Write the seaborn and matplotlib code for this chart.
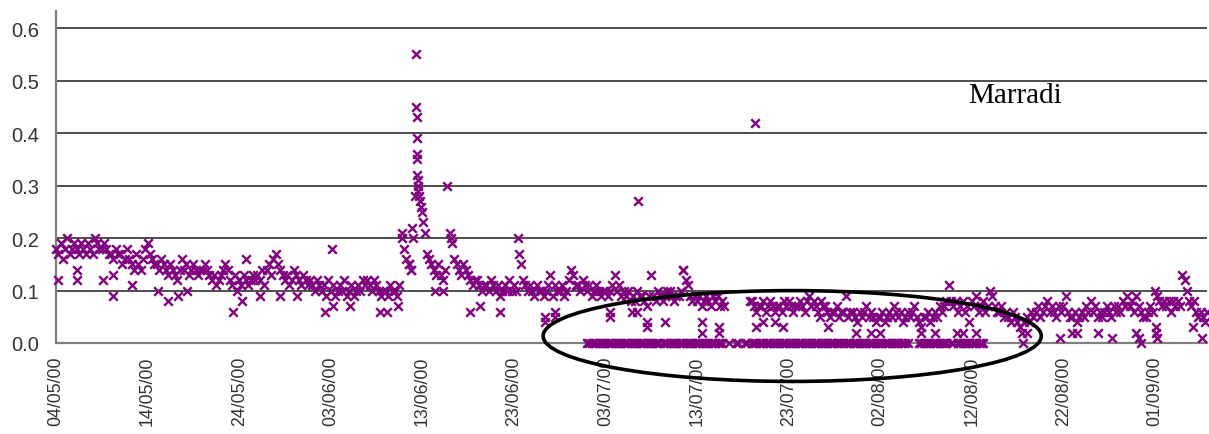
import numpy as np
import pandas as pd
import matplotlib
matplotlib.use("Agg")
import matplotlib.pyplot as plt
import matplotlib.dates as mdates
from matplotlib.patches import Ellipse
from matplotlib.ticker import FormatStrFormatter
import seaborn as sns

# ---- data -------------------------------------------------------------
start_date = "2000-05-04"
readings_per_day = 4  # one reading every 6 hours

# four readings per day, starting 04/05/00 00:00
daily_readings = [
    [0.18, 0.17, 0.19, 0.16], [0.18, 0.20, 0.17, 0.18], [0.19, 0.18, 0.17, 0.19],
    [0.18, 0.17, 0.19, 0.18], [0.17, 0.20, 0.19, 0.18], [0.18, 0.19, 0.18, 0.17],
    [0.17, 0.16, 0.18, 0.17], [0.17, 0.15, 0.16, 0.18], [0.16, 0.15, 0.14, 0.17],
    [0.15, 0.14, 0.16, 0.18], [0.19, 0.17, 0.16, 0.15], [0.15, 0.14, 0.16, 0.15],
    [0.14, 0.13, 0.15, 0.14], [0.13, 0.12, 0.14, 0.16], [0.14, 0.15, 0.13, 0.14],
    [0.15, 0.14, 0.13, 0.14], [0.14, 0.15, 0.14, 0.13], [0.12, 0.13, 0.11, 0.12],
    [0.13, 0.14, 0.15, 0.14], [0.12, 0.11, 0.13, 0.10], [0.12, 0.11, 0.13, 0.12],
    [0.11, 0.12, 0.13, 0.12], [0.13, 0.12, 0.14, 0.11], [0.14, 0.15, 0.13, 0.16],
    [0.17, 0.15, 0.14, 0.13], [0.12, 0.13, 0.11, 0.12], [0.14, 0.13, 0.12, 0.11],
    [0.13, 0.12, 0.11, 0.12], [0.11, 0.10, 0.12, 0.11], [0.10, 0.11, 0.09, 0.12],
    [0.10, 0.11, 0.09, 0.10], [0.11, 0.10, 0.12, 0.09], [0.10, 0.11, 0.09, 0.10],
    [0.11, 0.10, 0.12, 0.11], [0.12, 0.11, 0.10, 0.12], [0.11, 0.10, 0.09, 0.10],
    [0.10, 0.09, 0.11, 0.10], [0.10, 0.09, 0.11, 0.20], [0.18, 0.16, 0.15, 0.14],
    [0.20, 0.28, 0.29, 0.27], [0.25, 0.21, 0.17, 0.16], [0.15, 0.14, 0.13, 0.15],
    [0.13, 0.12, 0.14, 0.30], [0.21, 0.19, 0.16, 0.15], [0.14, 0.13, 0.15, 0.14],
    [0.13, 0.12, 0.11, 0.12], [0.12, 0.11, 0.10, 0.11], [0.11, 0.10, 0.12, 0.11],
    [0.10, 0.11, 0.09, 0.10], [0.11, 0.10, 0.12, 0.10], [0.11, 0.10, 0.20, 0.15],
    [0.12, 0.11, 0.10, 0.11], [0.10, 0.09, 0.11, 0.10], [0.10, 0.09, 0.10, 0.11],
    [0.13, 0.09, 0.11, 0.10], [0.10, 0.11, 0.09, 0.10], [0.12, 0.14, 0.13, 0.11],
    [0.11, 0.10, 0.12, 0.11], [0.10, 0.11, 0.09, 0.10], [0.11, 0.10, 0.09, 0.10],
    [0.10, 0.09, 0.10, 0.11], [0.13, 0.10, 0.11, 0.09], [0.10, 0.09, 0.10, 0.08],
    [0.09, 0.08, 0.10, 0.09], [0.09, 0.08, 0.07, 0.09], [0.13, 0.09, 0.08, 0.10],
    [0.09, 0.08, 0.09, 0.10], [0.10, 0.09, 0.08, 0.09], [0.09, 0.10, 0.14, 0.12],
    [0.11, 0.09, 0.08, 0.09], [0.08, 0.09, 0.07, 0.08], [0.09, 0.08, 0.07, 0.09],
    [0.08, 0.09, 0.07, 0.08], [0.07, None, None, None], [None, None, None, None],
    [None, None, None, 0.08], [0.08, 0.07, 0.06, 0.07], [0.07, 0.08, 0.06, 0.07],
    [0.08, 0.07, 0.06, 0.07], [0.07, 0.06, 0.08, 0.07], [0.08, 0.07, 0.06, 0.07],
    [0.07, 0.08, 0.07, 0.06], [0.08, 0.09, 0.07, 0.08], [0.07, 0.06, 0.08, 0.07],
    [0.07, 0.06, 0.05, 0.06], [0.06, 0.07, 0.05, 0.06], [0.06, 0.09, 0.05, 0.06],
    [0.06, 0.05, 0.04, 0.06], [0.05, 0.06, 0.07, 0.05], [0.06, 0.05, 0.04, 0.05],
    [0.05, 0.06, 0.04, 0.05], [0.06, 0.05, 0.07, 0.06], [0.05, 0.06, 0.04, 0.05],
    [0.06, 0.05, 0.06, 0.07], [0.05, 0.04, 0.03, 0.05], [0.05, 0.06, 0.04, 0.05],
    [0.06, 0.05, 0.07, 0.06], [0.07, 0.08, 0.11, 0.08], [0.07, 0.08, 0.06, 0.07],
    [0.08, 0.06, 0.07, 0.04], [0.08, 0.07, 0.09, 0.06], [0.07, 0.08, 0.06, 0.07],
    [0.10, 0.09, 0.07, 0.06], [0.06, 0.07, 0.05, 0.06], [0.05, 0.04, 0.06, 0.05],
    [0.04, 0.03, 0.02, 0.04], [0.05, 0.04, 0.06, 0.05], [0.06, 0.07, 0.05, 0.06],
    [0.07, 0.08, 0.06, 0.07], [0.06, 0.05, 0.07, 0.06], [0.07, 0.09, 0.06, 0.05],
    [0.05, 0.06, 0.04, 0.05], [0.06, 0.05, 0.07, 0.06], [0.08, 0.06, 0.07, 0.05],
    [0.06, 0.05, 0.06, 0.07], [0.06, 0.05, 0.07, 0.06], [0.07, 0.06, 0.08, 0.07],
    [0.09, 0.07, 0.08, 0.06], [0.09, 0.07, 0.06, 0.05], [0.05, 0.06, 0.07, 0.06],
    [0.10, 0.09, 0.08, 0.07], [0.08, 0.07, 0.08, 0.06], [0.08, 0.07, 0.08, 0.07],
    [0.13, 0.12, 0.10, 0.08], [0.07, 0.08, 0.06, 0.05], [0.06, 0.05, 0.04, 0.06],
]

# additional off-schedule readings (days after start, value)
extra_days = [
    0.2, 2.3, 2.3, 5.1, 6.2, 6.2, 8.3, 11.1, 12.2, 13.3, 14.3, 19.3, 20.3, 20.8,
    22.3, 24.5, 26.3, 29.4, 30.1, 30.3, 32.1, 35.4, 36.2, 37.3, 37.8, 38.6, 38.8,
    38.9, 39.3, 39.3, 39.4, 39.4, 39.4, 39.4, 39.4, 39.5, 39.5, 39.6, 39.9, 40.1,
    41.4, 42.3, 43.1, 45.2, 46.3, 48.5, 50.6, 53.4, 53.4, 54.5, 54.5, 60.5, 60.5,
    62.9, 63.4, 63.6, 64.5, 64.5, 66.5, 68.5, 70.5, 70.5, 72.4, 72.4, 76.3, 76.5,
    77.2, 78.5, 79.4, 83.4, 84.3, 87.4, 89.0, 90.0, 94.5, 96.0, 98.4, 99.0, 100.5,
    105.6, 106.0, 109.6, 111.0, 111.5, 113.8, 115.3, 118.0, 118.3, 118.5, 120.1,
    120.1, 120.2, 124.2, 125.2,
]
extra_values = [
    0.12, 0.14, 0.12, 0.12, 0.09, 0.13, 0.11, 0.10, 0.08, 0.09, 0.10, 0.06, 0.08, 0.16,
    0.09, 0.09, 0.09, 0.06, 0.18, 0.07, 0.07, 0.06, 0.06, 0.07, 0.21, 0.15, 0.14,
    0.22, 0.55, 0.45, 0.43, 0.39, 0.36, 0.35, 0.32, 0.31, 0.30, 0.28, 0.26, 0.23,
    0.10, 0.10, 0.20, 0.06, 0.07, 0.06, 0.17, 0.04, 0.05, 0.06, 0.05, 0.06, 0.05,
    0.06, 0.06, 0.27, 0.03, 0.04, 0.04, 0.14, 0.04, 0.02, 0.03, 0.02, 0.42, 0.03,
    0.04, 0.04, 0.03, 0.05, 0.03, 0.02, 0.02, 0.02, 0.02, 0.02, 0.02, 0.02, 0.02,
    0.00, 0.02, 0.01, 0.02, 0.02, 0.02, 0.01, 0.02, 0.01, 0.00, 0.03,
    0.02, 0.01, 0.03, 0.01,
]

# spans (days after start) in which a parallel reading of 0.0 was logged
zero_runs = [
    (58.0, 65.75), (66.25, 72.75), (73.5, 73.5), (74.25, 74.5), (75.25, 75.5),
    (76.0, 85.5), (86.0, 93.0), (94.25, 97.25), (97.75, 98.0), (98.5, 101.25),
]

tick_labels = [
    "04/05/00", "14/05/00", "24/05/00", "03/06/00", "13/06/00", "23/06/00",
    "03/07/00", "13/07/00", "23/07/00", "02/08/00", "12/08/00", "22/08/00",
    "01/09/00",
]
y_ticks = [0.0, 0.1, 0.2, 0.3, 0.4, 0.5, 0.6]
station_name = "Marradi"

# ---- assemble the table ----------------------------------------------
t0 = pd.Timestamp(start_date)
flat = [v for day in daily_readings for v in day]
grid_days = np.arange(len(flat)) / readings_per_day
main = pd.DataFrame({"day": grid_days,
                     "value": pd.to_numeric(pd.Series(flat), errors="coerce")})
extra = pd.DataFrame({"day": extra_days, "value": extra_values})
zero_mask = np.zeros(len(grid_days), dtype=bool)
for a, b in zero_runs:
    zero_mask |= (grid_days >= a - 1e-9) & (grid_days <= b + 1e-9)
zeros = pd.DataFrame({"day": grid_days[zero_mask], "value": 0.0})

df = pd.concat([main, extra, zeros], ignore_index=True).dropna()
df["time"] = t0 + pd.to_timedelta(df["day"], unit="D")

# ---- draw --------------------------------------------------------------
sns.set_style("white")
plt.rcParams["font.family"] = ["Liberation Sans", "DejaVu Sans"]

W, H = 1209, 435
fig = plt.figure(figsize=(W / 100, H / 100), dpi=100)
ax = fig.add_axes([56 / W, 91 / H, 1151 / W, 332 / H])

purple = "#800080"
sns.scatterplot(data=df, x="time", y="value", ax=ax, marker="x", color=purple,
                s=38, linewidth=1.7, legend=False, zorder=3)
for coll in ax.collections:
    coll.set_clip_on(False)

ax.set_xlim(t0, t0 + pd.Timedelta(days=125.7))
ax.set_ylim(0, 0.6324)

ax.set_yticks(y_ticks)
ax.yaxis.set_major_formatter(FormatStrFormatter("%.1f"))
tick_pos = pd.to_datetime(tick_labels, format="%d/%m/%y")
ax.set_xticks(tick_pos)
ax.set_xticklabels(tick_labels, rotation=90, fontsize=12.8, color="#333333")
for lab in ax.get_yticklabels():
    lab.set_fontsize(14.5)
    lab.set_color("#333333")

ax.set_xlabel("")
ax.set_ylabel("")
ax.yaxis.grid(True, color="#4d4d4d", linewidth=1.4)
ax.xaxis.grid(False)
ax.set_axisbelow(True)

for side in ("top", "right"):
    ax.spines[side].set_visible(False)
for side in ("left", "bottom"):
    ax.spines[side].set_color("#7f7f7f")
    ax.spines[side].set_linewidth(1.6)
ax.spines["left"].set_bounds(0, 0.6324)
ax.tick_params(axis="both", direction="out", length=7, width=1.4,
               color="#7f7f7f")
ax.tick_params(axis="y", pad=5)
ax.tick_params(axis="x", pad=2)

# highlight of the period with zero readings
x0 = mdates.date2num(t0)
ring = Ellipse((x0 + 80.4, 0.0133), width=54.4, height=0.173, fill=False,
               edgecolor="black", linewidth=2.6, zorder=5, clip_on=False)
ax.add_patch(ring)

ax.text((968 - 56) / 1151, (344 - 103) / 332, station_name,
        transform=ax.transAxes, fontsize=21, family="Liberation Serif",
        color="black", va="baseline", ha="left")

fig.savefig("out.png", dpi=100)
